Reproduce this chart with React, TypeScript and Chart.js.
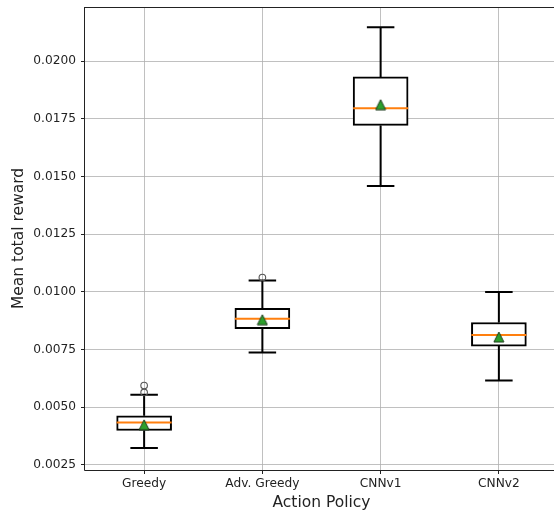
import React, { useEffect, useRef } from 'react';
import { Chart, registerables } from 'chart.js';

Chart.register(...registerables);

const categories = ['Greedy', 'Adv. Greedy', 'CNNv1', 'CNNv2'];
const whiskerLow = [0.00323, 0.00737, 0.01458, 0.00616];
const q1 = [0.00399, 0.0084, 0.01721, 0.00765];
const medians = [0.00434, 0.00883, 0.01795, 0.00813];
const q3 = [0.00463, 0.00928, 0.01931, 0.00867];
const whiskerHigh = [0.00554, 0.01049, 0.02146, 0.00999];
const means = [0.00424, 0.00879, 0.01811, 0.00804];
const outlierCats = ['Greedy', 'Greedy', 'Adv. Greedy'];
const outlierValues = [0.00594, 0.00564, 0.01062];
const yTicks = [0.0025, 0.005, 0.0075, 0.01, 0.0125, 0.015, 0.0175, 0.02];
const yMin = 0.00228;
const yMax = 0.02234;

const FONT = 'DejaVu Sans';
const TEXT = '#222';
const CANVAS_W = 565;

function makeTriangle(): HTMLCanvasElement {
  const c = document.createElement('canvas');
  c.width = 12;
  c.height = 12;
  const g = c.getContext('2d')!;
  g.beginPath();
  g.moveTo(6, 1);
  g.lineTo(1, 11);
  g.lineTo(11, 11);
  g.closePath();
  g.fillStyle = '#2ca02c';
  g.fill();
  g.lineWidth = 1;
  g.strokeStyle = '#1f3d1f';
  g.stroke();
  return c;
}

const noPad = (s: any) => {
  s.paddingTop = 0;
  s.paddingBottom = 0;
  s.paddingLeft = 0;
  s.paddingRight = 0;
};

const boxPlugin = {
  id: 'boxWhiskers',
  afterDatasetDraw(chart: any, args: any) {
    if (args.index !== 0) return;
    const y = chart.scales.y;
    const ctx = chart.ctx;
    ctx.save();
    args.meta.data.forEach((bar: any, i: number) => {
      const x = bar.x;
      const w = bar.width;
      ctx.lineCap = 'butt';
      ctx.strokeStyle = '#000';
      ctx.lineWidth = 2;
      ctx.beginPath();
      ctx.moveTo(x, y.getPixelForValue(q3[i]));
      ctx.lineTo(x, y.getPixelForValue(whiskerHigh[i]));
      ctx.moveTo(x, y.getPixelForValue(q1[i]));
      ctx.lineTo(x, y.getPixelForValue(whiskerLow[i]));
      const cw = w / 4;
      ctx.moveTo(x - cw, y.getPixelForValue(whiskerHigh[i]));
      ctx.lineTo(x + cw, y.getPixelForValue(whiskerHigh[i]));
      ctx.moveTo(x - cw, y.getPixelForValue(whiskerLow[i]));
      ctx.lineTo(x + cw, y.getPixelForValue(whiskerLow[i]));
      ctx.stroke();
      ctx.strokeStyle = '#ff7f0e';
      ctx.beginPath();
      ctx.moveTo(x - w / 2, y.getPixelForValue(medians[i]));
      ctx.lineTo(x + w / 2, y.getPixelForValue(medians[i]));
      ctx.stroke();
    });
    ctx.restore();
  },
  afterDraw(chart: any) {
    const a = chart.chartArea;
    const ctx = chart.ctx;
    ctx.save();
    ctx.strokeStyle = '#222';
    ctx.lineWidth = 1;
    ctx.beginPath();
    ctx.moveTo(Math.round(a.left) - 0.5, Math.round(a.top) + 0.5);
    ctx.lineTo(a.right, Math.round(a.top) + 0.5);
    ctx.moveTo(Math.round(a.left) - 0.5, Math.round(a.top));
    ctx.lineTo(Math.round(a.left) - 0.5, Math.round(a.bottom) + 0.5);
    ctx.lineTo(a.right, Math.round(a.bottom) + 0.5);
    ctx.lineTo(a.right, Math.round(a.top) + 0.5);
    ctx.stroke();
    ctx.restore();
  },
};

export default function App() {
  const ref = useRef<HTMLCanvasElement | null>(null);
  useEffect(() => {
    if (!ref.current) return;
    const tri = makeTriangle();
    const chart = new Chart(ref.current, {
      type: 'bar',
      data: {
        labels: categories,
        datasets: [
          {
            type: 'bar',
            data: categories.map((_, i) => [q1[i], q3[i]]) as any,
            backgroundColor: '#ffffff',
            borderColor: '#000000',
            borderWidth: 2,
            borderSkipped: false,
            barThickness: 55,
            order: 3,
          } as any,
          {
            type: 'line',
            data: outlierCats.map((c, i) => ({ x: c, y: outlierValues[i] })) as any,
            showLine: false,
            pointStyle: 'circle',
            pointRadius: 3.3,
            pointBorderWidth: 1.1,
            pointBorderColor: '#555',
            pointBackgroundColor: 'rgba(0,0,0,0)',
            order: 2,
          } as any,
          {
            type: 'line',
            data: means,
            showLine: false,
            pointStyle: tri,
            pointRadius: 6,
            order: 1,
          } as any,
        ],
      },
      options: {
        animation: false,
        responsive: false,
        devicePixelRatio: 1,
        layout: { padding: { left: 1, top: 7, right: 0, bottom: 0 } },
        plugins: { legend: { display: false }, tooltip: { enabled: false } },
        scales: {
          x: {
            type: 'category',
            offset: true,
            grid: {
              offset: false,
              color: '#b0b0b0',
              lineWidth: 0.8,
              drawTicks: true,
              tickLength: 4,
              tickColor: '#222',
              tickWidth: 1,
            },
            border: { display: false },
            ticks: { color: TEXT, font: { family: FONT, size: 12.2 }, padding: 3, maxRotation: 0 },
            title: {
              display: true,
              text: 'Action Policy',
              color: TEXT,
              font: { family: FONT, size: 15.5 },
              padding: { top: 0, bottom: 2 },
            },
            afterFit: (s: any) => {
              s.height = 44;
              noPad(s);
            },
          },
          y: {
            type: 'linear',
            min: yMin,
            max: yMax,
            grid: {
              color: '#b0b0b0',
              lineWidth: 0.8,
              drawTicks: true,
              tickLength: 4,
              tickColor: '#222',
              tickWidth: 1,
            },
            border: { display: false },
            ticks: {
              color: TEXT,
              font: { family: FONT, size: 12.2 },
              padding: 5,
              callback: (v: any) => Number(v).toFixed(4),
            },
            afterBuildTicks: (s: any) => {
              s.ticks = yTicks.map((v) => ({ value: v }));
            },
            title: {
              display: true,
              text: 'Mean total reward',
              color: TEXT,
              font: { family: FONT, size: 15.5 },
              padding: { top: 9, bottom: 0 },
            },
            afterFit: (s: any) => {
              s.width = 84;
              noPad(s);
            },
          },
        },
      },
      plugins: [boxPlugin],
    } as any);
    return () => chart.destroy();
  }, []);
  return (
    <div style={{ position: 'fixed', left: 0, top: 0, width: 554, height: 514, overflow: 'hidden', background: '#fff' }}>
      <canvas ref={ref} width={CANVAS_W} height={514} style={{ width: CANVAS_W, height: 514, display: 'block' }} />
    </div>
  );
}
